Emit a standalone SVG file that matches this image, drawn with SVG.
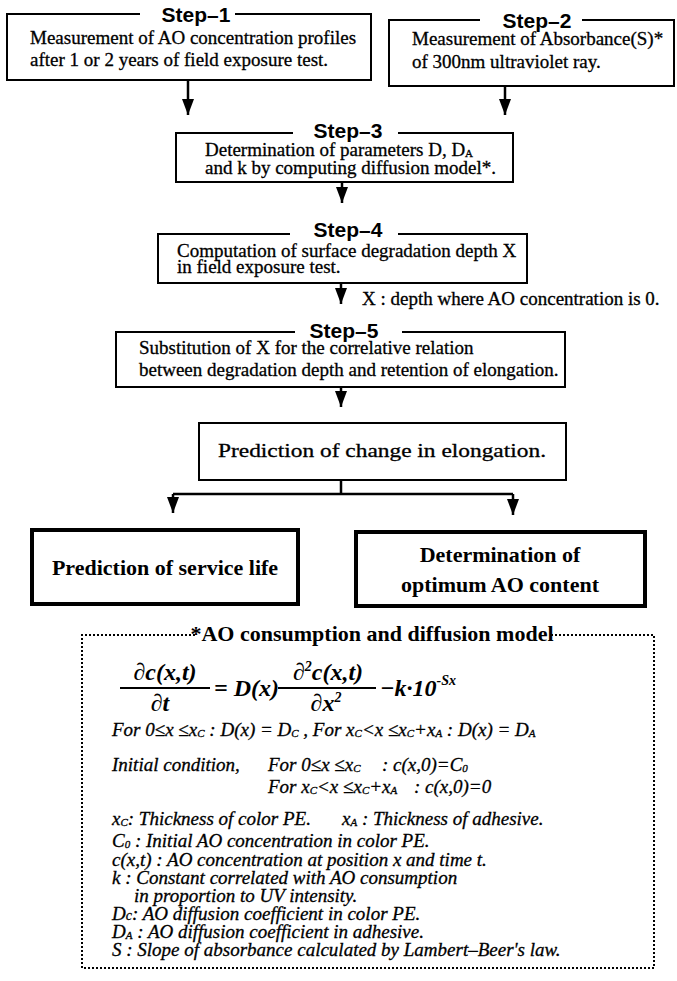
<svg xmlns="http://www.w3.org/2000/svg" width="677" height="981" viewBox="0 0 677 981">
<style>
.bx{fill:none;stroke:#000;stroke-width:2}
.bxb{fill:none;stroke:#000;stroke-width:4}
.lbl{font-family:"Liberation Sans",Arial,sans-serif;font-weight:bold;font-size:21px;text-anchor:middle}
.t{font-family:"Liberation Serif","Times New Roman",serif;font-size:19px;stroke:#000;stroke-width:0.3}
.tb{font-family:"Liberation Serif","Times New Roman",serif;font-size:22px;font-weight:bold;text-anchor:middle}
.it{font-family:"Liberation Serif","Times New Roman",serif;font-size:19px;font-style:italic;stroke:#000;stroke-width:0.3}
.fm{font-family:"Liberation Serif","Times New Roman",serif;font-size:24px;font-style:italic;font-weight:bold}
.c{fill:none;stroke:#000;stroke-width:2.5}
.dot{fill:none;stroke:#000;stroke-width:2;stroke-dasharray:2 2}
.sb{font-size:11px}
</style>
<defs>
<marker id="ah" markerUnits="userSpaceOnUse" markerWidth="12" markerHeight="16" refX="6" refY="16" orient="0" viewBox="0 0 12 16">
<path d="M0,0 L12,0 L6,16 z" fill="#000"/>
</marker>
</defs>

<g id="step1">
<path class="bx" d="M140,14 H7 V80 H371 V14 H235"/>
<text class="lbl" x="196" y="22">Step–1</text>
<text class="t" x="30" y="44">Measurement of AO concentration profiles</text>
<text class="t" x="30" y="66">after 1 or 2 years of field exposure test.</text>
</g>

<g id="step2">
<path class="bx" d="M480,20 H389 V86 H674 V20 H582"/>
<text class="lbl" x="537" y="28">Step–2</text>
<text class="t" x="412" y="45">Measurement of Absorbance(S)*</text>
<text class="t" x="412" y="68">of 300nm ultraviolet ray.</text>
</g>

<g id="step3">
<path class="bx" d="M293,133 H176 V182 H513 V133 H398"/>
<text class="lbl" x="348" y="138">Step–3</text>
<text class="t" x="205" y="156">Determination of parameters D, D<tspan class="sb" dy="1">A</tspan></text>
<text class="t" x="205" y="174">and k by computing diffusion model*.</text>
</g>

<g id="step4">
<path class="bx" d="M290,234 H158 V283 H527 V234 H398"/>
<text class="lbl" x="348" y="237">Step–4</text>
<text class="t" x="177" y="257">Computation of surface degradation depth X</text>
<text class="t" x="177" y="273">in field exposure test.</text>
</g>

<g id="note-x">
<text class="t" x="362" y="305">X : depth where AO concentration is 0.</text>
</g>

<g id="step5">
<path class="bx" d="M295,332 H116 V387 H565 V332 H402"/>
<text class="lbl" x="344" y="338">Step–5</text>
<text class="t" x="139" y="354">Substitution of X for the correlative relation</text>
<text class="t" x="139" y="376">between degradation depth and retention of elongation.</text>
</g>

<g id="prediction">
<rect class="bx" x="199" y="423" width="367" height="57"/>
<text class="t" x="218" y="457" font-size="22" textLength="328" lengthAdjust="spacingAndGlyphs">Prediction of change in elongation.</text>
</g>

<g id="service-life">
<rect class="bxb" x="32" y="530" width="266" height="74"/>
<text class="tb" x="165" y="575">Prediction of service life</text>
</g>

<g id="optimum">
<rect class="bxb" x="356" y="532" width="289" height="74"/>
<text class="tb" x="500" y="562">Determination of</text>
<text class="tb" x="500" y="592">optimum AO content</text>
</g>

<g id="connectors">
<path class="c" d="M188,80 V115" marker-end="url(#ah)"/>
<path class="c" d="M505,86 V115" marker-end="url(#ah)"/>
<path class="c" d="M342,182 V203" marker-end="url(#ah)"/>
<path class="c" d="M341,283 V304" marker-end="url(#ah)"/>
<path class="c" d="M341,387 V407" marker-end="url(#ah)"/>
<path class="c" d="M341,480 V494 M173,494 H513"/>
<path class="c" d="M173,494 V513" marker-end="url(#ah)"/>
<path class="c" d="M513,494 V515" marker-end="url(#ah)"/>
</g>

<g id="model">
<path class="dot" d="M195,635 H82 V968 H654 V635 H550"/>
<text class="tb" x="372" y="641" font-size="20.5">*AO consumption and diffusion model</text>
<g id="formula">
<text class="fm" x="165" y="680" text-anchor="middle">∂c(x,t)</text>
<line x1="120" y1="688" x2="210" y2="688" stroke="#000" stroke-width="2.2"/>
<text class="fm" x="160" y="711" text-anchor="middle">∂t</text>
<text class="fm" x="214" y="696">= D(x)</text>
<text class="fm" x="328" y="680" text-anchor="middle">∂<tspan font-size="14" dy="-9">2</tspan><tspan dy="9">c(x,t)</tspan></text>
<line x1="278" y1="688" x2="376" y2="688" stroke="#000" stroke-width="2.2"/>
<text class="fm" x="326" y="711" text-anchor="middle">∂x<tspan font-size="14" dy="-9">2</tspan></text>
<text class="fm" x="380" y="696">−k·10<tspan font-size="14" dy="-11">-Sx</tspan></text>
</g>
<text class="it" x="112" y="736">For 0≤x ≤x<tspan class="sb" dy="1">C</tspan><tspan dy="-1"> : D(x) = D</tspan><tspan class="sb" dy="1">C</tspan><tspan dy="-1">  ,  For x</tspan><tspan class="sb" dy="1">C</tspan><tspan dy="-1">&lt;x ≤x</tspan><tspan class="sb" dy="1">C</tspan><tspan dy="-1">+x</tspan><tspan class="sb" dy="1">A</tspan><tspan dy="-1"> : D(x) = D</tspan><tspan class="sb" dy="1">A</tspan></text>
<text class="it" x="112" y="771">Initial condition,</text>
<text class="it" x="268" y="771">For 0≤x ≤x<tspan class="sb" dy="1">C</tspan></text>
<text class="it" x="382" y="771">: c(x,0)=C<tspan class="sb" dy="1">0</tspan></text>
<text class="it" x="268" y="793">For x<tspan class="sb" dy="1">C</tspan><tspan dy="-1">&lt;x ≤x</tspan><tspan class="sb" dy="1">C</tspan><tspan dy="-1">+x</tspan><tspan class="sb" dy="1">A</tspan></text>
<text class="it" x="414" y="793">: c(x,0)=0</text>
<text class="it" x="112" y="825">x<tspan class="sb" dy="1">C</tspan><tspan dy="-1">: Thickness of color PE.</tspan></text>
<text class="it" x="342" y="825">x<tspan class="sb" dy="1">A</tspan><tspan dy="-1"> : Thickness of adhesive.</tspan></text>
<text class="it" x="112" y="847">C<tspan class="sb" dy="1">0</tspan><tspan dy="-1"> : Initial AO concentration in color PE.</tspan></text>
<text class="it" x="112" y="866">c(x,t) : AO concentration at position x and time t.</text>
<text class="it" x="112" y="884">k : Constant correlated with AO consumption</text>
<text class="it" x="134" y="902">in proportion to UV intensity.</text>
<text class="it" x="112" y="920">D<tspan font-size="14">c</tspan>: AO diffusion coefficient in color PE.</text>
<text class="it" x="112" y="938">D<tspan class="sb" dy="1">A</tspan><tspan dy="-1"> : AO diffusion coefficient in adhesive.</tspan></text>
<text class="it" x="112" y="956">S : Slope of absorbance calculated by Lambert–Beer's law.</text>
</g>
</svg>
